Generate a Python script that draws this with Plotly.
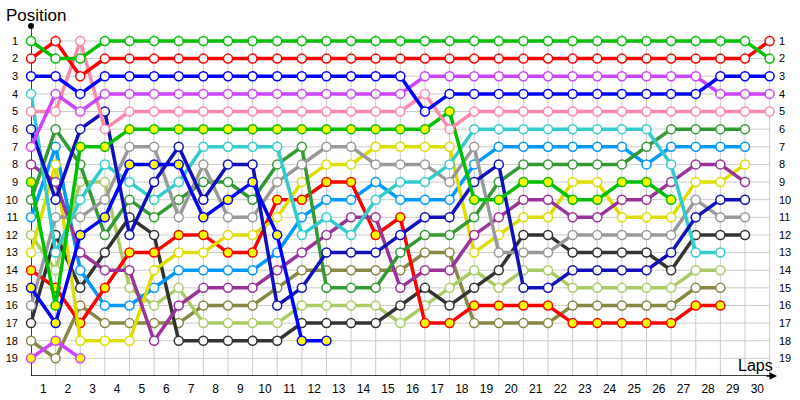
import plotly.graph_objects as go

laps = list(range(0, 31))
lap_labels = [str(i) for i in range(1, 31)]
positions = list(range(1, 20))

# positions per lap (index = lap number, lap 0 = start)
green = [1,2,2,1,1,1,1,1,1,1,1,1,1,1,1,1,1,1,1,1,1,1,1,1,1,1,1,1,1,1,2]
red = [2,1,3,2,2,2,2,2,2,2,2,2,2,2,2,2,2,2,2,2,2,2,2,2,2,2,2,2,2,2,1]
blue = [3,3,4,3,3,3,3,3,3,3,3,3,3,3,3,3,5,4,4,4,4,4,4,4,4,4,4,4,3,3,3]
violet = [7,4,5,4,4,4,4,4,4,4,4,4,4,4,4,4,3,3,3,3,3,3,3,3,3,3,3,3,4,4,4]
pink = [5,5,1,6,5,5,5,5,5,5,5,5,5,5,5,5,4,6,5,5,5,5,5,5,5,5,5,5,5,5,5]
green_y = [9,16,7,7,6,6,6,6,6,6,6,6,6,6,6,6,6,5,10,10,9,9,10,10,9,9,10]
cyan = [4,13,10,8,9,10,9,7,7,7,7,12,11,12,10,9,9,8,6,6,6,6,6,6,6,6,8,13,13]
gray = [16,11,11,10,7,7,11,8,11,11,9,8,7,7,8,8,8,9,7,13,13,13,12,12,12,12,12,10,11,11]
navy = [6,10,6,5,12,9,7,10,8,8,16,15,13,13,13,12,11,11,9,8,15,15,14,14,14,14,13,11,10,10]
dark_green = [10,6,8,12,10,11,10,9,9,10,8,7,15,15,15,13,12,12,11,9,8,8,8,8,8,7,6,6,6,6]
purple = [8,9,13,14,14,18,16,15,15,15,14,13,12,11,11,15,14,14,12,11,10,10,11,11,10,10,9,8,8,9]
yellow = [13,8,18,18,18,14,13,13,12,12,11,9,8,8,7,7,7,7,13,12,11,11,9,9,11,11,11,9,9,8]
red_y = [14,15,17,15,13,13,12,12,13,13,10,10,9,9,12,11,17,17,16,16,16,16,17,17,17,17,17,16,16]
light_blue = [11,7,14,16,16,15,14,14,14,14,13,11,10,10,9,10,10,10,8,7,7,7,7,7,7,8,7,7,7,7]
black = [17,12,15,13,11,12,18,18,18,18,18,17,17,17,17,16,15,16,15,14,12,12,13,13,13,13,14,12,12,12]
light_green = [12,14,9,9,15,16,15,17,17,17,17,16,16,16,16,17,16,15,14,15,14,14,15,15,15,15,15,14,14]
olive = [18,19,16,17,17,17,17,16,16,16,15,14,14,14,14,14,13,13,17,17,17,17,16,16,16,16,16,15,15]
violet_y = [19,18,19]
blue_y = [15,17,12,11,8,8,8,11,10,9,12,18,18]

series = [
    (olive, "#888844", "white"),
    (light_green, "#AACC66", "white"),
    (black, "#333333", "white"),
    (light_blue, "#0099FF", "white"),
    (red_y, "#FF0000", "#FFFF00"),
    (yellow, "#DDDD00", "white"),
    (purple, "#993399", "white"),
    (dark_green, "#339933", "white"),
    (gray, "#999999", "white"),
    (cyan, "#33CCCC", "white"),
    (navy, "#1111BB", "white"),
    (blue_y, "#0000FF", "#FFFF00"),
    (violet_y, "#CC44FF", "#FFFF00"),
    (green_y, "#00C000", "#FFFF00"),
    (pink, "#FF88AA", "white"),
    (violet, "#CC44FF", "white"),
    (blue, "#0000FF", "white"),
    (red, "#FF0000", "white"),
    (green, "#00C000", "white"),
]

fig = go.Figure()
for vals, col, fill in series:
    fig.add_trace(go.Scatter(
        x=laps[:len(vals)], y=vals, mode="lines+markers",
        line=dict(color=col, width=3.5),
        marker=dict(symbol="circle", size=9, color=fill, line=dict(color=col, width=1.5)),
        cliponaxis=False, showlegend=False, hoverinfo="skip"))

# invisible trace on right axis for mirrored labels
fig.add_trace(go.Scatter(x=[0], y=[1], yaxis="y2", mode="markers",
                         marker=dict(opacity=0), showlegend=False, hoverinfo="skip"))

shapes = []
grid = "#CCCCCC"
for p in positions:
    shapes.append(dict(type="line", xref="x", yref="y", x0=0, x1=30, y0=p, y1=p,
                       line=dict(color=grid, width=1), layer="below"))
for l in laps[1:]:
    shapes.append(dict(type="line", xref="x", yref="y", x0=l, x1=l, y0=0.6, y1=20,
                       line=dict(color=grid, width=1), layer="below"))
shapes.append(dict(type="line", xref="x", yref="y", x0=0, x1=0, y0=0.15, y1=20,
                   line=dict(color="black", width=1.5), layer="below"))
shapes.append(dict(type="line", xref="x", yref="y", x0=0, x1=30.2, y0=20, y1=20,
                   line=dict(color="black", width=1.5), layer="below"))

font = "Liberation Sans, Arial, sans-serif"
fig.update_layout(
    width=800, height=400,
    margin=dict(l=31, r=23, t=26, b=24, autoexpand=False),
    paper_bgcolor="white", plot_bgcolor="white",
    font=dict(family=font, size=12, color="black"),
    shapes=shapes,
    xaxis=dict(range=[0, 30.3], showgrid=False, zeroline=False, showline=False,
               automargin=False, fixedrange=True,
               tickmode="array", tickvals=[l - 0.5 for l in laps[1:]], ticktext=lap_labels,
               ticks="", ticklabelstandoff=4, tickfont=dict(size=12)),
    yaxis=dict(range=[20, 0.15], showgrid=False, zeroline=False, showline=False,
               automargin=False, fixedrange=True,
               tickmode="array", tickvals=positions, ticktext=[str(p) for p in positions],
               ticks="", ticklabelstandoff=12, tickfont=dict(size=11)),
    yaxis2=dict(range=[20, 0.15], overlaying="y", side="right", showgrid=False,
                automargin=False, fixedrange=True,
                zeroline=False, showline=False, tickmode="array", tickvals=positions,
                ticktext=[str(p) for p in positions], ticks="", ticklabelstandoff=1,
                tickfont=dict(size=11)),
    annotations=[
        dict(text="Position", xref="paper", yref="paper", x=-27/746, y=1 + 11/350,
             xanchor="left", yanchor="middle", showarrow=False, font=dict(size=17)),
        dict(text="Laps", x=30.2, y=19.4, xref="x", yref="y", xanchor="right",
             yanchor="middle", showarrow=False, font=dict(size=16)),
        dict(text="", x=30.3, y=20, xref="x", yref="y", ax=-12, ay=0,
             showarrow=True, arrowhead=2, arrowsize=1, arrowwidth=1.5, arrowcolor="black"),
        dict(text="", x=0, y=0.15, xref="x", yref="y", ax=0, ay=4,
             showarrow=True, arrowhead=6, arrowsize=1, arrowwidth=1.5, arrowcolor="black"),
    ],
)

fig.write_html("out.html", config={"displayModeBar": False},
               post_script="document.body.style.margin='0';document.body.style.overflow='hidden';")
